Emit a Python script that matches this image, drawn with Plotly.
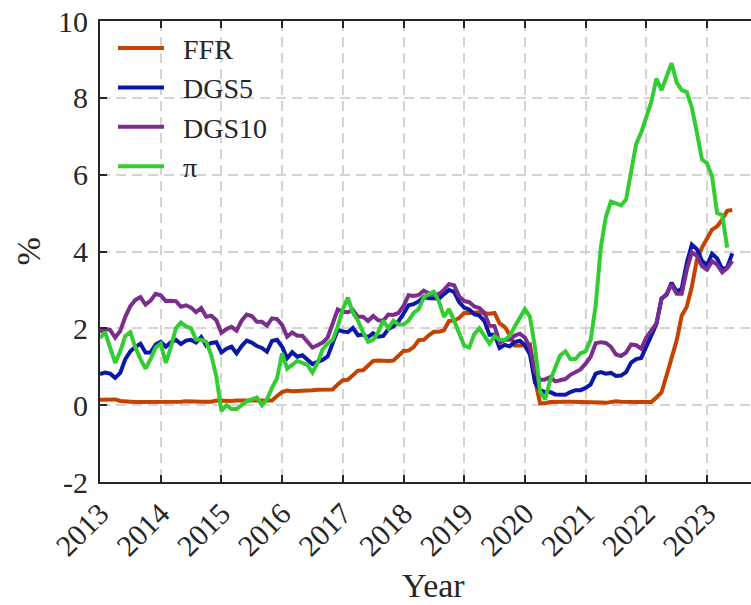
import plotly.graph_objects as go

# Monthly data, Jan 2013 onward
start_year = 2013
FFR = [0.14,0.15,0.14,0.15,0.11,0.09,0.09,0.08,0.08,0.09,0.08,0.09,
       0.07,0.07,0.08,0.09,0.09,0.10,0.09,0.09,0.09,0.09,0.09,0.12,
       0.11,0.11,0.11,0.12,0.12,0.13,0.13,0.14,0.14,0.12,0.12,0.24,
       0.34,0.38,0.36,0.37,0.37,0.38,0.39,0.40,0.40,0.40,0.41,0.54,
       0.65,0.66,0.79,0.90,0.91,1.04,1.15,1.16,1.15,1.15,1.16,1.30,
       1.41,1.42,1.51,1.69,1.70,1.82,1.91,1.91,1.95,2.19,2.20,2.27,
       2.40,2.40,2.41,2.42,2.39,2.38,2.40,2.13,2.04,1.83,1.55,1.55,
       1.55,1.58,0.65,0.05,0.05,0.08,0.09,0.10,0.09,0.09,0.09,0.09,
       0.09,0.08,0.07,0.07,0.06,0.08,0.10,0.09,0.08,0.08,0.08,0.08,
       0.08,0.08,0.20,0.33,0.77,1.21,1.68,2.33,2.56,3.08,3.78,4.10,
       4.33,4.57,4.65,4.83,5.06,5.08]
DGS5 = [0.81,0.85,0.82,0.71,0.84,1.20,1.40,1.52,1.60,1.37,1.37,1.58,
        1.65,1.52,1.64,1.70,1.59,1.68,1.70,1.63,1.77,1.55,1.62,1.64,
        1.37,1.47,1.52,1.35,1.54,1.68,1.63,1.54,1.49,1.39,1.67,1.70,
        1.52,1.22,1.38,1.26,1.30,1.17,1.07,1.13,1.18,1.27,1.60,1.96,
        1.92,1.90,2.01,1.82,1.84,1.77,1.87,1.78,1.80,1.98,2.05,2.18,
        2.38,2.60,2.63,2.70,2.82,2.78,2.78,2.77,2.89,3.00,2.95,2.68,
        2.54,2.49,2.37,2.33,2.19,1.83,1.83,1.49,1.57,1.53,1.64,1.68,
        1.56,1.32,0.59,0.39,0.34,0.34,0.28,0.27,0.27,0.34,0.39,0.39,
        0.45,0.54,0.82,0.86,0.82,0.84,0.76,0.77,0.86,1.11,1.20,1.23,
        1.54,1.81,2.11,2.78,2.87,3.19,2.96,3.03,3.70,4.18,4.06,3.76,
        3.64,3.94,3.82,3.54,3.59,3.95]
DGS10 = [1.91,1.98,1.96,1.76,1.93,2.30,2.58,2.74,2.81,2.62,2.72,2.90,
         2.86,2.71,2.72,2.71,2.56,2.60,2.54,2.42,2.53,2.30,2.33,2.21,
         1.88,1.98,2.04,1.94,2.20,2.36,2.32,2.17,2.17,2.07,2.26,2.24,
         2.09,1.78,1.89,1.81,1.81,1.64,1.50,1.56,1.63,1.76,2.14,2.49,
         2.43,2.42,2.48,2.30,2.30,2.19,2.32,2.21,2.20,2.36,2.35,2.40,
         2.58,2.86,2.84,2.87,2.98,2.91,2.89,2.89,3.00,3.15,3.12,2.83,
         2.71,2.68,2.57,2.53,2.40,2.07,2.06,1.63,1.70,1.71,1.81,1.86,
         1.76,1.50,0.87,0.66,0.67,0.73,0.62,0.65,0.68,0.79,0.87,0.93,
         1.08,1.26,1.61,1.64,1.62,1.52,1.32,1.28,1.37,1.58,1.56,1.47,
         1.76,1.93,2.13,2.75,2.90,3.14,2.90,2.90,3.52,3.98,3.89,3.62,
         3.53,3.75,3.66,3.46,3.57,3.75]
PI = [1.75,1.9,1.5,1.1,1.4,1.8,1.9,1.5,1.2,0.95,1.2,1.5,
      1.6,1.1,1.5,2.0,2.15,2.05,2.0,1.7,1.7,1.65,1.3,0.75,
      -0.15,0.0,-0.1,-0.1,0.0,0.1,0.15,0.2,0.0,0.15,0.45,0.7,
      1.35,0.95,1.05,1.15,1.1,1.05,0.85,1.1,1.45,1.6,1.7,2.05,
      2.5,2.8,2.4,2.2,1.9,1.65,1.7,1.9,2.2,2.0,2.2,2.1,
      2.1,2.2,2.4,2.5,2.8,2.9,2.95,2.7,2.3,2.5,2.2,1.9,
      1.55,1.5,1.85,2.0,1.8,1.6,1.8,1.7,1.7,1.8,2.05,2.3,
      2.5,2.3,1.5,0.35,0.15,0.65,1.0,1.3,1.4,1.2,1.2,1.35,
      1.4,1.7,2.6,4.1,4.9,5.3,5.25,5.2,5.35,6.1,6.8,7.1,
      7.5,7.9,8.5,8.2,8.55,8.9,8.4,8.2,8.15,7.75,7.1,6.4,
      6.3,5.95,5.0,4.95,4.1]

YEAR_TICKS = list(range(2013, 2024))
Y_TICKS = [-2, 0, 2, 4, 6, 8, 10]
Y_LABELS = ["-2", "0", "2", "4", "6", "8", "10"]
NAMES = ["FFR", "DGS5", "DGS10", "π"]
COLORS = ["#C44300", "#0A17A8", "#7B2D8E", "#33CC33"]

def months(n):
    return [start_year + i / 12 for i in range(n)]

FONT = "Liberation Serif"
fig = go.Figure()
for name, vals, col in zip(NAMES, [FFR, DGS5, DGS10, PI], COLORS):
    fig.add_trace(go.Scatter(x=months(len(vals)), y=vals, mode="lines",
                             name="\u00a0\u00a0" + name,
                             line=dict(color=col, width=4)))

axis_col = "#262626"
fig.update_layout(
    width=751, height=605,
    margin=dict(l=100, r=0, t=21, b=123),
    paper_bgcolor="white", plot_bgcolor="white",
    font=dict(family=FONT, color=axis_col),
    showlegend=True,
    legend=dict(x=0.02, y=0.995, xanchor="left", yanchor="top",
                bgcolor="rgba(0,0,0,0)", font=dict(size=28, family=FONT, color=axis_col),
                itemwidth=46, tracegroupgap=0),
    xaxis=dict(range=[2013, 2013 + 651 / 60.7], tickvals=YEAR_TICKS,
               ticktext=[str(y) for y in YEAR_TICKS], tickangle=-45,
               tickfont=dict(size=30, family=FONT, color=axis_col),
               ticks="inside", ticklen=7, tickwidth=1.5, tickcolor=axis_col,
               showline=True, linecolor=axis_col, linewidth=2, mirror="ticks",
               showgrid=True, gridcolor="#d4d4d4", gridwidth=1.5, griddash="10px,6px",
               zeroline=False),
    yaxis=dict(range=[-2, 10], tickvals=Y_TICKS, ticktext=Y_LABELS,
               tickfont=dict(size=30, family=FONT, color=axis_col),
               ticks="inside", ticklen=7, tickwidth=1.5, tickcolor=axis_col,
               showline=True, linecolor=axis_col, linewidth=2, mirror=False,
               showgrid=True, gridcolor="#d4d4d4", gridwidth=1.5, griddash="10px,6px",
               zeroline=False, ticklabelstandoff=4),
    annotations=[
        dict(text="Year", xref="paper", yref="paper", x=(433 - 100) / 651, y=-(585 - 482) / 461,
             xanchor="center", yanchor="middle", showarrow=False,
             font=dict(size=34, family=FONT, color=axis_col)),
        dict(text="%", xref="paper", yref="paper", x=-(100 - 28) / 651, y=0.5,
             xanchor="center", yanchor="middle", showarrow=False, textangle=-90,
             font=dict(size=34, family=FONT, color=axis_col)),
    ],
)

fig.write_html("out.html")
